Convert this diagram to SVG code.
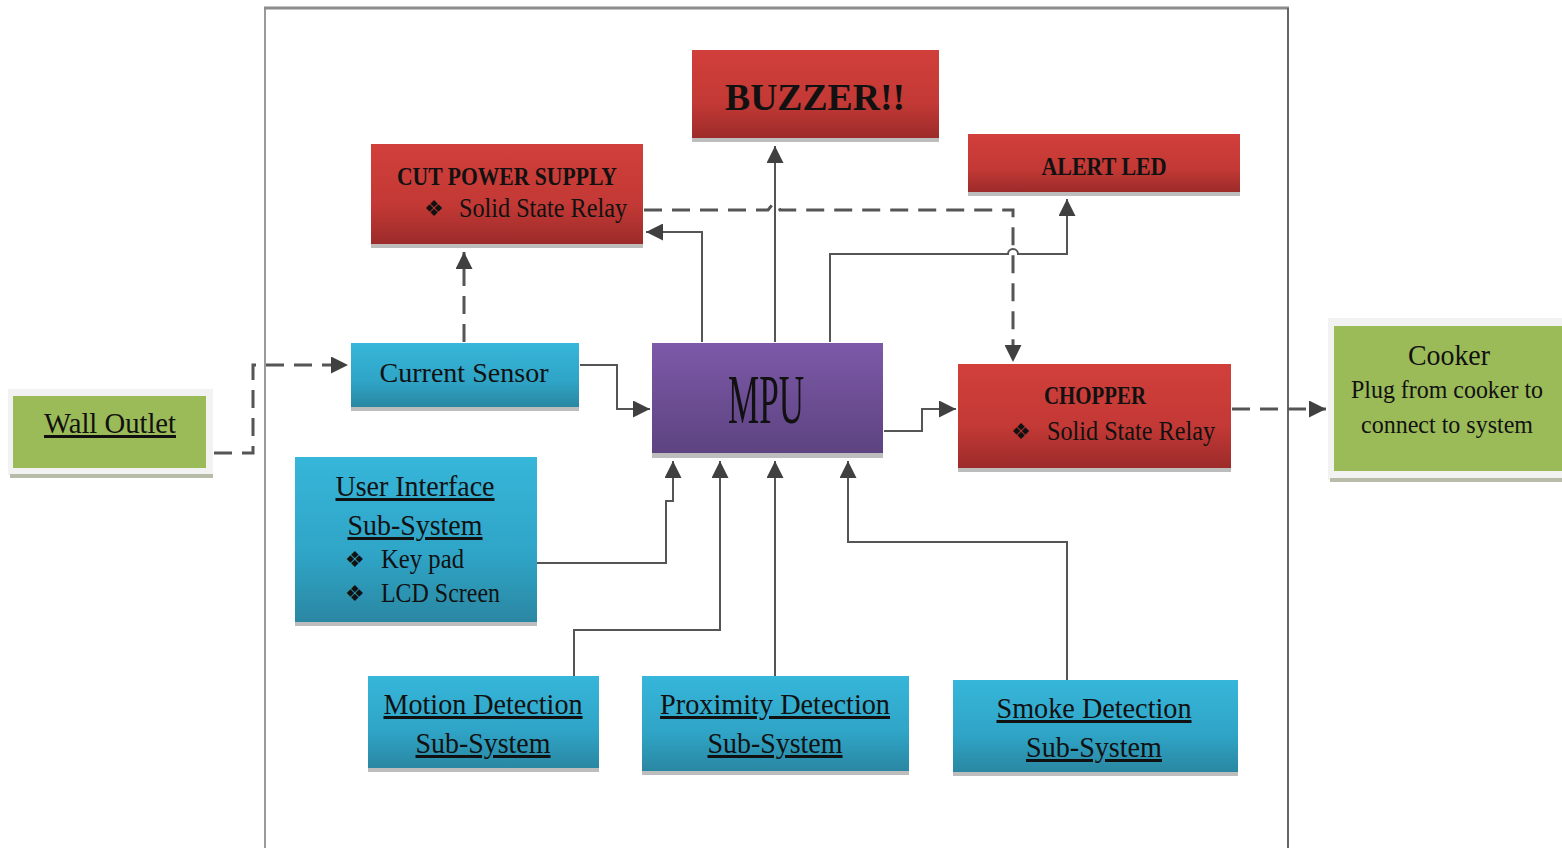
<svg xmlns="http://www.w3.org/2000/svg" width="1562" height="848" viewBox="0 0 1562 848">
<defs>
<linearGradient id="gRed" x1="0" y1="0" x2="0" y2="1"><stop offset="0" stop-color="#d13f3b"/><stop offset="0.6" stop-color="#c33935"/><stop offset="1" stop-color="#9c2b2a"/></linearGradient>
<linearGradient id="gBlue" x1="0" y1="0" x2="0" y2="1"><stop offset="0" stop-color="#36b6da"/><stop offset="0.6" stop-color="#2fa4c6"/><stop offset="1" stop-color="#2a87a2"/></linearGradient>
<linearGradient id="gPurple" x1="0" y1="0" x2="0" y2="1"><stop offset="0" stop-color="#7d59a9"/><stop offset="1" stop-color="#5d4380"/></linearGradient>
<marker id="arr" viewBox="0 0 10 10" refX="10" refY="5" markerWidth="17" markerHeight="17" markerUnits="userSpaceOnUse" orient="auto"><path d="M0,0 L10,5 L0,10 z" fill="#404040"/></marker>
</defs>
<style>
.sh{fill:#bdbdbd}
.t{font-family:"Liberation Serif","Times New Roman",serif;fill:#111}
.d{font-family:"Liberation Serif","Times New Roman",serif;font-weight:bold;fill:#111}
.u{text-decoration:underline}
.c{fill:none;stroke:#555;stroke-width:2}
.dash{fill:none;stroke:#555;stroke-width:3;stroke-dasharray:18,10}
</style>
<rect width="1562" height="848" fill="#fff"/>
<g id="frame">
<line x1="265" y1="8" x2="265" y2="848" stroke="#9a9a9a" stroke-width="2"/>
<line x1="264" y1="8" x2="1289" y2="8" stroke="#8c8c8c" stroke-width="3"/>
<line x1="1288" y1="8" x2="1288" y2="848" stroke="#666" stroke-width="2"/>
</g>
<g id="connectors">
<path class="dash" d="M214,453 H253 V365 H348" marker-end="url(#arr)"/>
<path class="dash" d="M464,342 V252" marker-end="url(#arr)"/>
<path class="c" d="M580,365 H617 V409 H650" marker-end="url(#arr)"/>
<path class="c" d="M702,342 V232 H646" marker-end="url(#arr)"/>
<path class="c" d="M775,342 V146" marker-end="url(#arr)"/>
<path class="c" d="M830,342 V254 H1008 A5,5 0 0 1 1018,254 H1067 V199" marker-end="url(#arr)"/>
<path class="dash" d="M644,210 H768 L772,205 H778 L780,210 H1013 V362" marker-end="url(#arr)"/>
<path class="c" d="M884,431 H922 V409 H956" marker-end="url(#arr)"/>
<path class="dash" d="M1232,409 H1326" marker-end="url(#arr)"/>
<path class="c" d="M537,563 H666 V501 H673 V461" marker-end="url(#arr)"/>
<path class="c" d="M574,676 V630 H720 V461" marker-end="url(#arr)"/>
<path class="c" d="M775,676 V461" marker-end="url(#arr)"/>
<path class="c" d="M1067,680 V542 H848 V461" marker-end="url(#arr)"/>
</g>
<g id="buzzer">
<rect class="sh" x="692" y="137" width="247" height="5"/>
<rect x="692" y="50" width="247" height="88" fill="url(#gRed)"/>
<text class="d" x="815" y="110" font-size="38" text-anchor="middle" textLength="180" lengthAdjust="spacingAndGlyphs">BUZZER!!</text>
</g>
<g id="cutpower">
<rect class="sh" x="371" y="243" width="272" height="5"/>
<rect x="371" y="144" width="272" height="100" fill="url(#gRed)"/>
<text class="d" x="507" y="185" font-size="26" text-anchor="middle" textLength="220" lengthAdjust="spacingAndGlyphs">CUT POWER SUPPLY</text>
<text class="t" x="424" y="216" font-size="22">❖</text>
<text class="t" x="459" y="217" font-size="27" textLength="168" lengthAdjust="spacingAndGlyphs">Solid State Relay</text>
</g>
<g id="alertled">
<rect class="sh" x="968" y="191" width="272" height="5"/>
<rect x="968" y="134" width="272" height="58" fill="url(#gRed)"/>
<text class="d" x="1104" y="175" font-size="26" text-anchor="middle" textLength="125" lengthAdjust="spacingAndGlyphs">ALERT LED</text>
</g>
<g id="currentsensor">
<rect class="sh" x="351" y="406" width="228" height="5"/>
<rect x="351" y="343" width="228" height="64" fill="url(#gBlue)"/>
<text class="t" x="464" y="382" font-size="28" text-anchor="middle" textLength="169" lengthAdjust="spacingAndGlyphs">Current Sensor</text>
</g>
<g id="mpu">
<rect class="sh" x="652" y="452" width="231" height="6"/>
<rect x="652" y="343" width="231" height="110" fill="url(#gPurple)"/>
<text class="t" x="766" y="423" font-size="70" text-anchor="middle" textLength="76" lengthAdjust="spacingAndGlyphs">MPU</text>
</g>
<g id="chopper">
<rect class="sh" x="958" y="467" width="273" height="5"/>
<rect x="958" y="364" width="273" height="104" fill="url(#gRed)"/>
<text class="d" x="1095" y="404" font-size="26" text-anchor="middle" textLength="102" lengthAdjust="spacingAndGlyphs">CHOPPER</text>
<text class="t" x="1011" y="439" font-size="22">❖</text>
<text class="t" x="1047" y="440" font-size="27" textLength="168" lengthAdjust="spacingAndGlyphs">Solid State Relay</text>
</g>
<g id="userinterface">
<rect class="sh" x="295" y="621" width="242" height="5"/>
<rect x="295" y="457" width="242" height="165" fill="url(#gBlue)"/>
<text class="t u" x="415" y="496" font-size="30" text-anchor="middle" textLength="159" lengthAdjust="spacingAndGlyphs">User Interface</text>
<text class="t u" x="415" y="535" font-size="30" text-anchor="middle" textLength="135" lengthAdjust="spacingAndGlyphs">Sub-System</text>
<text class="t" x="345" y="567" font-size="22">❖</text>
<text class="t" x="381" y="568" font-size="28" textLength="83" lengthAdjust="spacingAndGlyphs">Key pad</text>
<text class="t" x="345" y="601" font-size="22">❖</text>
<text class="t" x="381" y="602" font-size="28" textLength="119" lengthAdjust="spacingAndGlyphs">LCD Screen</text>
</g>
<g id="motion">
<rect class="sh" x="368" y="767" width="231" height="5"/>
<rect x="368" y="676" width="231" height="92" fill="url(#gBlue)"/>
<text class="t u" x="483" y="714" font-size="30" text-anchor="middle" textLength="199" lengthAdjust="spacingAndGlyphs">Motion Detection</text>
<text class="t u" x="483" y="753" font-size="30" text-anchor="middle" textLength="135" lengthAdjust="spacingAndGlyphs">Sub-System</text>
</g>
<g id="proximity">
<rect class="sh" x="642" y="770" width="267" height="5"/>
<rect x="642" y="676" width="267" height="95" fill="url(#gBlue)"/>
<text class="t u" x="775" y="714" font-size="30" text-anchor="middle" textLength="230" lengthAdjust="spacingAndGlyphs">Proximity Detection</text>
<text class="t u" x="775" y="753" font-size="30" text-anchor="middle" textLength="135" lengthAdjust="spacingAndGlyphs">Sub-System</text>
</g>
<g id="smoke">
<rect class="sh" x="953" y="771" width="285" height="5"/>
<rect x="953" y="680" width="285" height="92" fill="url(#gBlue)"/>
<text class="t u" x="1094" y="718" font-size="30" text-anchor="middle" textLength="195" lengthAdjust="spacingAndGlyphs">Smoke Detection</text>
<text class="t u" x="1094" y="757" font-size="30" text-anchor="middle" textLength="136" lengthAdjust="spacingAndGlyphs">Sub-System</text>
</g>
<g id="walloutlet">
<rect x="8" y="389" width="205" height="86" fill="#f2f2f2"/>
<rect x="10" y="474" width="203" height="4" fill="#b6bca8"/>
<rect x="13" y="396" width="193" height="72" fill="#9bbb59"/>
<text class="t u" x="110" y="433" font-size="30" text-anchor="middle" textLength="132" lengthAdjust="spacingAndGlyphs">Wall Outlet</text>
</g>
<g id="cooker">
<rect x="1328" y="318" width="234" height="162" fill="#f2f2f2"/>
<rect x="1330" y="478" width="232" height="4" fill="#b6bca8"/>
<rect x="1334" y="326" width="228" height="145" fill="#9bbb59"/>
<text class="t" x="1449" y="365" font-size="30" text-anchor="middle" textLength="82" lengthAdjust="spacingAndGlyphs">Cooker</text>
<text class="t" x="1447" y="398" font-size="25" text-anchor="middle" textLength="192" lengthAdjust="spacingAndGlyphs">Plug from cooker to</text>
<text class="t" x="1447" y="433" font-size="25" text-anchor="middle" textLength="172" lengthAdjust="spacingAndGlyphs">connect to system</text>
</g>
</svg>
